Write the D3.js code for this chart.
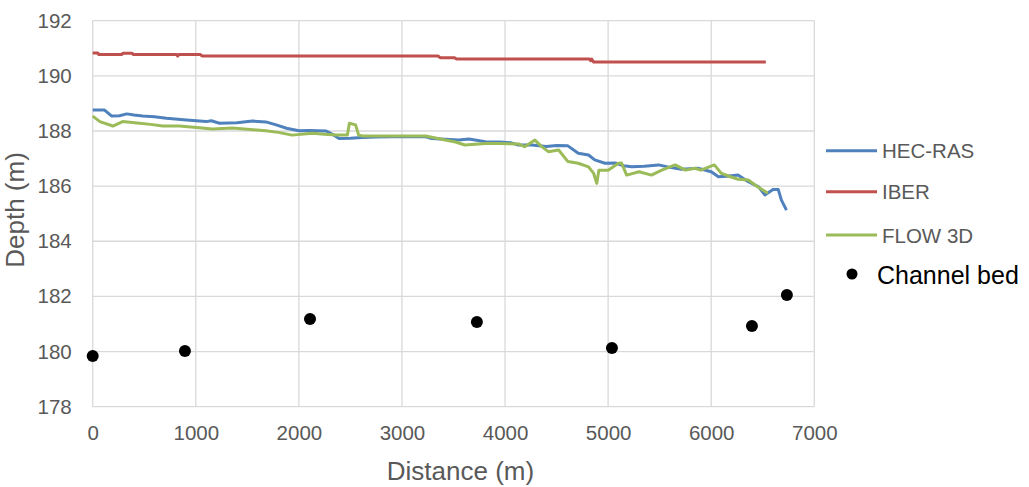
<!DOCTYPE html>
<html>
<head>
<meta charset="utf-8">
<script src="https://cdn.jsdelivr.net/npm/d3@7"></script>
<style>
  body { margin: 0; background: #fff; }
  text { font-family: "Liberation Sans", Arial, sans-serif; }
</style>
</head>
<body>
<div id="chart"></div>
<script>
// Data (distance m, depth m)
const hecRas = [
  [0, 188.76], [115, 188.76], [185, 188.54], [260, 188.55], [330, 188.62], [400, 188.58],
  [485, 188.54], [600, 188.52], [715, 188.46], [910, 188.40], [1100, 188.34], [1150, 188.37],
  [1230, 188.28], [1400, 188.30], [1550, 188.36], [1680, 188.33], [1780, 188.22], [1880, 188.10],
  [2000, 188.01], [2100, 188.02], [2265, 188.00], [2340, 187.85], [2390, 187.73], [2500, 187.74],
  [2610, 187.76], [2750, 187.78], [2900, 187.79], [3230, 187.79], [3290, 187.73], [3420, 187.70],
  [3550, 187.67], [3650, 187.71], [3810, 187.61], [3950, 187.60], [4060, 187.57], [4130, 187.49],
  [4260, 187.49], [4400, 187.44], [4500, 187.47], [4610, 187.46], [4710, 187.19], [4810, 187.13],
  [4870, 186.95], [4970, 186.83], [5070, 186.84], [5150, 186.74], [5230, 186.70], [5350, 186.72],
  [5490, 186.77], [5600, 186.68], [5710, 186.61], [5870, 186.65], [6000, 186.52], [6070, 186.34],
  [6150, 186.36], [6260, 186.40], [6360, 186.16], [6460, 185.97], [6520, 185.68], [6600, 185.88],
  [6650, 185.88], [6680, 185.50], [6730, 185.13]
];

const iber = [
  [0, 190.83], [50, 190.83], [60, 190.77], [280, 190.77], [295, 190.82], [380, 190.82],
  [395, 190.77], [815, 190.77], [825, 190.72], [835, 190.77], [1045, 190.77], [1060, 190.72],
  [3350, 190.72], [3370, 190.66], [3510, 190.66], [3530, 190.61], [4820, 190.61], [4830, 190.55],
  [4840, 190.61], [4860, 190.50], [6530, 190.50]
];

const flow3d = [
  [0, 188.54], [70, 188.34], [195, 188.18], [290, 188.34], [455, 188.28], [560, 188.24],
  [680, 188.18], [840, 188.18], [1035, 188.12], [1160, 188.07], [1355, 188.11], [1500, 188.06],
  [1680, 188.01], [1800, 187.95], [1935, 187.85], [2130, 187.92], [2250, 187.88], [2360, 187.85],
  [2470, 187.85], [2490, 188.28], [2550, 188.22], [2580, 187.85], [2620, 187.82], [3230, 187.82],
  [3420, 187.67], [3520, 187.60], [3610, 187.49], [3810, 187.55], [3940, 187.55], [4130, 187.53],
  [4190, 187.43], [4290, 187.67], [4350, 187.45], [4420, 187.25], [4520, 187.31], [4610, 186.89],
  [4710, 186.83], [4810, 186.70], [4860, 186.46], [4890, 186.10], [4910, 186.58], [5000, 186.58],
  [5100, 186.83], [5130, 186.84], [5180, 186.40], [5300, 186.52], [5420, 186.40], [5520, 186.58],
  [5650, 186.77], [5750, 186.58], [5840, 186.65], [5900, 186.58], [6030, 186.77], [6100, 186.46],
  [6180, 186.35], [6260, 186.25], [6360, 186.22], [6450, 185.98], [6550, 185.74]
];

const channelBed = [
  [0, 179.84], [895, 180.02], [2108, 181.18], [3727, 181.07], [5037, 180.13], [6395, 180.93], [6734, 182.05]
];

const xTicks = [0, 1000, 2000, 3000, 4000, 5000, 6000, 7000];
const yTicks = [178, 180, 182, 184, 186, 188, 190, 192];

const seriesNames = ["HEC-RAS", "IBER", "FLOW 3D"];
const seriesColors = ["#4F81BD", "#C0504D", "#9BBB59"];
const seriesData = [hecRas, iber, flow3d];

// Dimensions
const dimensions = {
  width: 1029,
  height: 487,
  left: 92.7,
  top: 20.7,
  ctrWidth: 721.6,
  ctrHeight: 386,
};

const svg = d3
  .select("#chart")
  .append("svg")
  .attr("width", dimensions.width)
  .attr("height", dimensions.height);

const ctr = svg
  .append("g")
  .attr("transform", `translate(${dimensions.left}, ${dimensions.top})`);

// Scales
const xScale = d3.scaleLinear().domain([0, 7000]).range([0, dimensions.ctrWidth]);
const yScale = d3.scaleLinear().domain([178, 192]).range([dimensions.ctrHeight, 0]);

// Grid
ctr.append("g")
  .selectAll("line")
  .data(yTicks)
  .join("line")
  .attr("x1", 0)
  .attr("x2", dimensions.ctrWidth)
  .attr("y1", (d) => yScale(d))
  .attr("y2", (d) => yScale(d))
  .attr("stroke", "#d9d9d9")
  .attr("stroke-width", 1.3);

ctr.append("g")
  .selectAll("line")
  .data(xTicks)
  .join("line")
  .attr("x1", (d) => xScale(d))
  .attr("x2", (d) => xScale(d))
  .attr("y1", 0)
  .attr("y2", dimensions.ctrHeight)
  .attr("stroke", "#d9d9d9")
  .attr("stroke-width", 1.3);

// Axes
const xAxis = d3.axisBottom(xScale)
  .tickValues(xTicks)
  .tickFormat(d3.format("d"))
  .tickSize(0)
  .tickPadding(19);
const yAxis = d3.axisLeft(yScale).tickValues(yTicks).tickSize(0).tickPadding(21);

const xAxisG = ctr.append("g")
  .attr("transform", `translate(0, ${dimensions.ctrHeight})`)
  .call(xAxis);
const yAxisG = ctr.append("g").call(yAxis);

[xAxisG, yAxisG].forEach((g) => {
  g.select(".domain").remove();
  g.selectAll("text")
    .attr("fill", "#595959")
    .style("font-size", "20.5px")
    .style("font-family", '"Liberation Sans", Arial, sans-serif');
});

// Lines
const lineGenerator = d3
  .line()
  .x((d) => xScale(d[0]))
  .y((d) => yScale(d[1]));

seriesData.forEach((data, i) => {
  ctr.append("path")
    .datum(data)
    .attr("d", lineGenerator)
    .attr("fill", "none")
    .attr("stroke", seriesColors[i])
    .attr("stroke-width", 3)
    .attr("stroke-linejoin", "round");
});

// Channel bed points
ctr.append("g")
  .selectAll("circle")
  .data(channelBed)
  .join("circle")
  .attr("cx", (d) => xScale(d[0]))
  .attr("cy", (d) => yScale(d[1]))
  .attr("r", 6)
  .attr("fill", "#000");

// Axis titles
svg.append("text")
  .attr("x", dimensions.left + dimensions.ctrWidth / 2 + 7)
  .attr("y", 480)
  .attr("text-anchor", "middle")
  .attr("fill", "#595959")
  .style("font-size", "26px")
  .text("Distance (m)");

svg.append("text")
  .attr("transform", "translate(24, 210) rotate(-90)")
  .attr("text-anchor", "middle")
  .attr("fill", "#595959")
  .style("font-size", "26px")
  .text("Depth (m)");

// Legend
const legend = svg.append("g");
const legendY = [150.7, 191.7, 235];

seriesNames.forEach((name, i) => {
  legend.append("line")
    .attr("x1", 826)
    .attr("x2", 877)
    .attr("y1", legendY[i])
    .attr("y2", legendY[i])
    .attr("stroke", seriesColors[i])
    .attr("stroke-width", 3);
  legend.append("text")
    .attr("x", 882)
    .attr("y", legendY[i] + 7.5)
    .attr("fill", "#595959")
    .style("font-size", "20.5px")
    .text(name);
});

legend.append("circle")
  .attr("cx", 852)
  .attr("cy", 274)
  .attr("r", 5.5)
  .attr("fill", "#000");

legend.append("text")
  .attr("x", 877)
  .attr("y", 284)
  .attr("fill", "#000")
  .style("font-size", "25px")
  .text("Channel bed");
</script>
</body>
</html>
